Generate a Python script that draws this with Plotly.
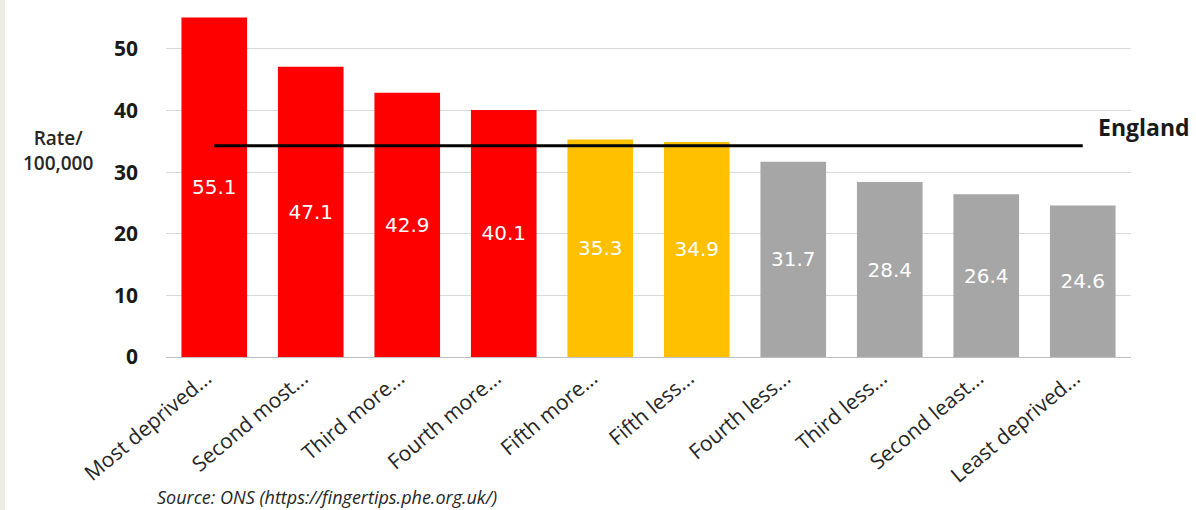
import plotly.graph_objects as go

categories = ["Most deprived...", "Second most...", "Third more...", "Fourth more...",
              "Fifth more...", "Fifth less...", "Fourth less...", "Third less...",
              "Second least...", "Least deprived..."]
values = [55.1, 47.1, 42.9, 40.1, 35.3, 34.9, 31.7, 28.4, 26.4, 24.6]
bar_colors = ["#FF0000"] * 4 + ["#FFC000"] * 2 + ["#A6A6A6"] * 4
england_rate = 34.3

W, H = 1196, 510
ML, MR, MT, MB = 166, 65, 12, 153
pw = W - ML - MR
ph = H - MT - MB

fig = go.Figure()
fig.add_trace(go.Bar(
    x=categories, y=values,
    marker=dict(color=bar_colors, line=dict(width=0)),
    text=[f"{v:.1f}" for v in values],
    textposition="inside", insidetextanchor="middle",
    textfont=dict(family="DejaVu Sans", size=20, color="white"),
    cliponaxis=False,
    hoverinfo="skip",
))
fig.add_trace(go.Scatter(
    x=[categories[0], categories[-1]], y=[england_rate, england_rate],
    mode="lines", line=dict(color="black", width=3), hoverinfo="skip",
))

def px_x(p):
    return (p - ML) / pw

def px_y(p):
    return (H - MB - p) / ph

annotations = [
    dict(text="England", x=px_x(1096), y=px_y(127), xref="paper", yref="paper",
         xanchor="left", yanchor="middle", showarrow=False,
         font=dict(family="Open Sans", size=23, color="#1a1a1a", weight="bold")),
    dict(text="Rate/<br>100,000", x=px_x(58), y=px_y(150), xref="paper", yref="paper",
         xanchor="center", yanchor="middle", showarrow=False, align="center",
         font=dict(family="Open Sans", size=19, color="#262626", weight=600)),
    dict(text="<i>Source: ONS (https://fingertips.phe.org.uk/)</i>", x=px_x(155), y=px_y(497),
         xref="paper", yref="paper", xanchor="left", yanchor="middle", showarrow=False,
         font=dict(family="Open Sans", size=18, color="#262626")),
]

fig.update_layout(
    width=W, height=H,
    margin=dict(l=ML, r=MR, t=MT, b=MB),
    paper_bgcolor="white", plot_bgcolor="white",
    showlegend=False,
    bargap=0.32,
    annotations=annotations,
    shapes=[dict(type="rect", xref="paper", yref="paper",
                 x0=px_x(0), x1=px_x(5), y0=px_y(H), y1=px_y(0),
                 fillcolor="#ECEBE4", line=dict(width=0), layer="below")],
    xaxis=dict(tickangle=-40, tickfont=dict(family="Open Sans", size=21, color="#262626"),
               showgrid=False, showline=False, ticks="",
               ticklabelshift=-8, ticklabelstandoff=4),
    yaxis=dict(range=[0, 56], tickvals=[0, 10, 20, 30, 40, 50],
               tickfont=dict(family="Open Sans", size=21, color="#1a1a1a", weight="bold"),
               showgrid=True, gridcolor="#D9D9D9", gridwidth=1,
               zeroline=True, zerolinecolor="#BFBFBF", zerolinewidth=1,
               ticklabelstandoff=27, ticks=""),
)

fig.write_html("out.html")
